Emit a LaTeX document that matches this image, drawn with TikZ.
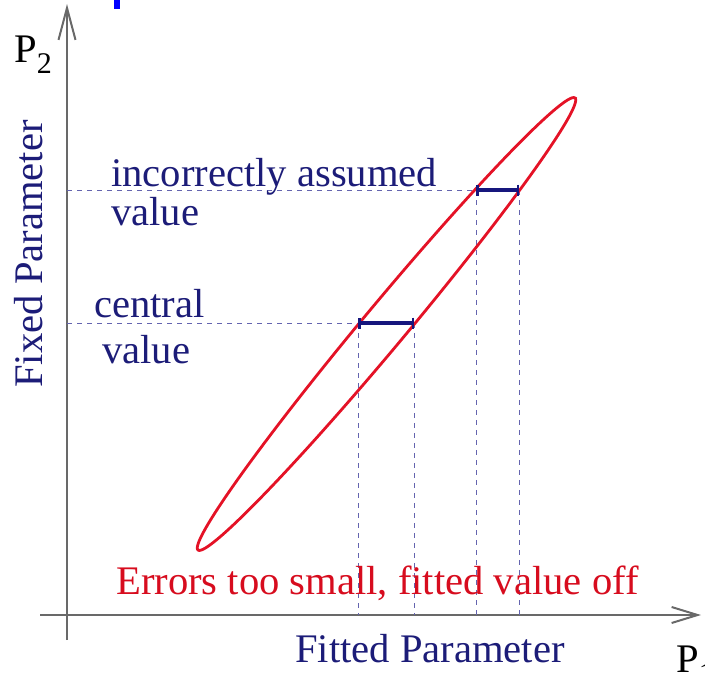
\documentclass[tikz,border=0pt]{standalone}
\usepackage{fontspec}
\setmainfont{Liberation Serif}
\usetikzlibrary{arrows.meta}
\definecolor{navytext}{RGB}{28,28,120}
\definecolor{redline}{RGB}{228,18,38}
\definecolor{redtext}{RGB}{215,12,30}
\definecolor{barc}{RGB}{22,22,125}
\definecolor{dashc}{RGB}{100,100,175}
\definecolor{axisc}{RGB}{105,105,105}
\begin{document}
\begin{tikzpicture}[x=1pt,y=-1pt,
  lbl/.style={inner sep=0pt,font=\fontsize{40.6}{48}\selectfont},
  bluelbl/.style={lbl,text=navytext,anchor=base west},
  guide/.style={draw=dashc,line width=1pt,dash pattern=on 5pt off 5pt},
  errbar/.style={draw=barc,line width=3.5pt,{Bar[width=11pt,line width=2.5pt]}-{Bar[width=11pt,line width=2.5pt]}},
  axisline/.style={draw=axisc,line width=2pt}]
\useasboundingbox (0,0) rectangle (705,677);
% small blue mark at top
\fill[blue] (114,0) rectangle (120,9);
% axes
\coordinate (ybot) at (67,640);
\coordinate (ytop) at (67,4);
\coordinate (xleft) at (40,615);
\coordinate (xright) at (701,615);
\draw[axisline,-{Straight Barb[length=32pt,width=17pt,line width=2pt]}] (ybot) -- (ytop);
\draw[axisline,-{Straight Barb[length=26pt,width=16pt,line width=2pt]}] (xleft) -- (xright);
% error bar end points
\coordinate (ua) at (476,190);
\coordinate (ub) at (519,190);
\coordinate (la) at (358,323);
\coordinate (lb) at (414,323);
\coordinate (uaxis) at (67,190);
\coordinate (laxis) at (67,323);
\coordinate (uab) at (476,615);
\coordinate (ubb) at (519,615);
\coordinate (lab) at (358,615);
\coordinate (lbb) at (414,615);
% dashed guides
\draw[guide] (uaxis) -- (ua);
\draw[guide] (laxis) -- (la);
\draw[guide] (ua) -- (uab);
\draw[guide] (ub) -- (ubb);
\draw[guide] (la) -- (lab);
\draw[guide] (lb) -- (lbb);
% ellipse
\draw[redline,line width=2.8pt] plot[domain=0:360,samples=240,smooth cycle]
  ({386.5 + 294.3*cos(\x)*cos(50.17) - 21.5*sin(\x)*sin(50.17)},
   {324 - (294.3*cos(\x)*sin(50.17) + 21.5*sin(\x)*cos(50.17))});
% error bars
\draw[errbar] (ua) -- (ub);
\draw[errbar] (la) -- (lb);
% labels
\node[bluelbl] (inc) at (111,186) {incorrectly assumed};
\node[bluelbl] (incv) at (111,225) {value};
\node[bluelbl] (cen) at (94,317) {central};
\node[bluelbl] (cenv) at (102,363) {value};
\node[lbl,text=redtext,anchor=base west] (err) at (116,594) {Errors too small, fitted value off};
\node[lbl,text=navytext,anchor=base west] (fit) at (295,662) {Fitted Parameter};
\node[lbl,text=navytext,anchor=base,rotate=90] (fix) at (42,254) {Fixed Parameter};
\node[lbl,anchor=base west] (p2) at (14,63) {P\raisebox{-11pt}{\fontsize{30}{30}\selectfont 2}};
\node[lbl,anchor=base west] (p1) at (676,672) {P\raisebox{-11pt}{\fontsize{30}{30}\selectfont 1}};
\end{tikzpicture}
\end{document}
